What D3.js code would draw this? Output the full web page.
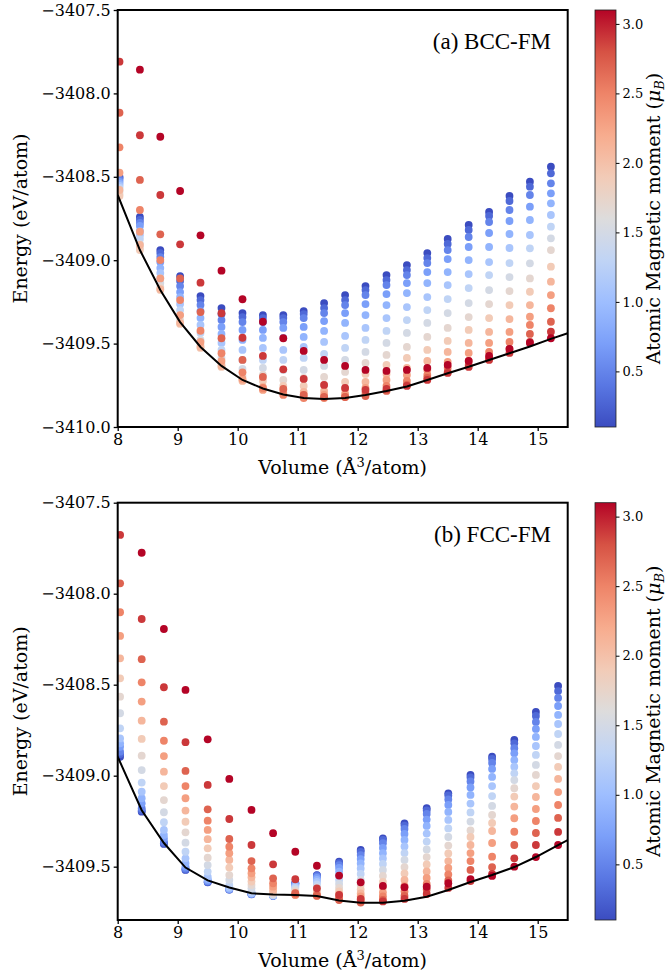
<!DOCTYPE html>
<html><head><meta charset="utf-8">
<script src="https://cdn.jsdelivr.net/npm/d3@7"></script>
<style>body{margin:0;background:#fff} svg text{font-family:'DejaVu Serif',serif;fill:#000}</style>
</head><body><svg id="chart" width="667" height="974"></svg>
<script>
// Fixed-spin moments (mu_B) used for every volume
const moments = [0.1,0.3,0.5,0.7,0.9,1.1,1.3,1.5,1.7,1.9,2.1,2.3,2.5,2.7,2.9,3.1];
const xTicks = [8,9,10,11,12,13,14,15];
const yTicksA = [-3410.0,-3409.5,-3409.0,-3408.5,-3408.0,-3407.5];
const yTicksB = [-3409.5,-3409.0,-3408.5,-3408.0,-3407.5];
const cbTicks = [0.5,1.0,1.5,2.0,2.5,3.0];

// (a) BCC-FM : volumes and energies (one row per volume, columns follow `moments`)
const volumesA = [8.03,8.37,8.71,9.04,9.38,9.73,10.08,10.42,10.76,11.10,11.44,11.79,12.13,12.48,12.82,13.16,13.50,13.85,14.19,14.53,14.87,15.22];
const energiesA = [
[-3408.501,-3408.507,-3408.519,-3408.531,-3408.543,-3408.555,-3408.567,-3408.585,-3408.603,-3408.615,-3408.579,-3408.475,-3408.323,-3408.116,-3407.810,-3407.410],
[-3408.741,-3408.759,-3408.777,-3408.795,-3408.825,-3408.849,-3408.873,-3408.903,-3408.927,-3408.939,-3408.909,-3408.829,-3408.699,-3408.519,-3408.251,-3407.858],
[-3408.939,-3408.957,-3408.981,-3409.011,-3409.047,-3409.077,-3409.107,-3409.137,-3409.161,-3409.179,-3409.173,-3409.109,-3408.999,-3408.845,-3408.609,-3408.260],
[-3409.095,-3409.125,-3409.155,-3409.191,-3409.221,-3409.263,-3409.299,-3409.329,-3409.359,-3409.382,-3409.376,-3409.329,-3409.239,-3409.109,-3408.905,-3408.585],
[-3409.215,-3409.239,-3409.269,-3409.305,-3409.347,-3409.388,-3409.436,-3409.478,-3409.508,-3409.526,-3409.520,-3409.490,-3409.423,-3409.311,-3409.135,-3408.851],
[-3409.287,-3409.323,-3409.359,-3409.400,-3409.442,-3409.496,-3409.538,-3409.586,-3409.622,-3409.640,-3409.634,-3409.604,-3409.558,-3409.468,-3409.318,-3409.063],
[-3409.317,-3409.341,-3409.371,-3409.418,-3409.478,-3409.538,-3409.598,-3409.652,-3409.694,-3409.718,-3409.724,-3409.712,-3409.672,-3409.598,-3409.465,-3409.234],
[-3409.329,-3409.347,-3409.371,-3409.418,-3409.466,-3409.526,-3409.598,-3409.646,-3409.688,-3409.724,-3409.760,-3409.778,-3409.766,-3409.700,-3409.574,-3409.369],
[-3409.329,-3409.347,-3409.371,-3409.406,-3409.466,-3409.538,-3409.598,-3409.658,-3409.718,-3409.754,-3409.778,-3409.796,-3409.808,-3409.772,-3409.654,-3409.468],
[-3409.305,-3409.323,-3409.347,-3409.400,-3409.460,-3409.520,-3409.586,-3409.658,-3409.706,-3409.754,-3409.790,-3409.808,-3409.826,-3409.808,-3409.712,-3409.544],
[-3409.257,-3409.287,-3409.317,-3409.365,-3409.424,-3409.490,-3409.562,-3409.634,-3409.700,-3409.748,-3409.784,-3409.808,-3409.826,-3409.820,-3409.748,-3409.598],
[-3409.209,-3409.239,-3409.269,-3409.317,-3409.376,-3409.454,-3409.526,-3409.598,-3409.670,-3409.730,-3409.772,-3409.802,-3409.820,-3409.820,-3409.766,-3409.634],
[-3409.155,-3409.179,-3409.209,-3409.263,-3409.329,-3409.406,-3409.478,-3409.550,-3409.616,-3409.682,-3409.730,-3409.766,-3409.796,-3409.814,-3409.778,-3409.658],
[-3409.089,-3409.119,-3409.149,-3409.203,-3409.269,-3409.347,-3409.424,-3409.496,-3409.568,-3409.628,-3409.682,-3409.718,-3409.754,-3409.784,-3409.772,-3409.664],
[-3409.029,-3409.059,-3409.089,-3409.137,-3409.197,-3409.281,-3409.359,-3409.436,-3409.520,-3409.586,-3409.646,-3409.688,-3409.724,-3409.748,-3409.754,-3409.658],
[-3408.957,-3408.987,-3409.017,-3409.071,-3409.137,-3409.221,-3409.299,-3409.376,-3409.460,-3409.538,-3409.604,-3409.658,-3409.688,-3409.706,-3409.718,-3409.646],
[-3408.873,-3408.903,-3408.939,-3408.993,-3409.071,-3409.149,-3409.233,-3409.317,-3409.406,-3409.484,-3409.550,-3409.610,-3409.646,-3409.670,-3409.676,-3409.628],
[-3408.789,-3408.819,-3408.861,-3408.921,-3408.999,-3409.083,-3409.167,-3409.257,-3409.341,-3409.418,-3409.496,-3409.556,-3409.604,-3409.628,-3409.640,-3409.604],
[-3408.711,-3408.735,-3408.771,-3408.837,-3408.921,-3409.011,-3409.089,-3409.179,-3409.263,-3409.347,-3409.430,-3409.496,-3409.550,-3409.586,-3409.598,-3409.574],
[-3408.615,-3408.645,-3408.699,-3408.765,-3408.843,-3408.927,-3409.017,-3409.101,-3409.185,-3409.269,-3409.353,-3409.430,-3409.490,-3409.532,-3409.556,-3409.532],
[-3408.529,-3408.559,-3408.609,-3408.679,-3408.759,-3408.849,-3408.929,-3409.019,-3409.109,-3409.189,-3409.269,-3409.339,-3409.388,-3409.442,-3409.490,-3409.496],
[-3408.439,-3408.479,-3408.539,-3408.599,-3408.659,-3408.729,-3408.799,-3408.869,-3408.939,-3409.039,-3409.129,-3409.209,-3409.288,-3409.369,-3409.429,-3409.468]
];
const lineVolA = [8.00,8.37,8.71,9.04,9.38,9.73,10.08,10.42,10.76,11.10,11.44,11.79,12.13,12.48,12.82,13.16,13.50,13.85,14.19,14.53,14.87,15.22,15.50];
const lineEnA = [-3408.609,-3408.939,-3409.179,-3409.371,-3409.520,-3409.634,-3409.718,-3409.769,-3409.805,-3409.826,-3409.832,-3409.826,-3409.808,-3409.784,-3409.757,-3409.718,-3409.678,-3409.639,-3409.598,-3409.558,-3409.517,-3409.472,-3409.438];

// (b) FCC-FM
const volumesB = [8.04,8.40,8.77,9.13,9.50,9.86,10.23,10.59,10.96,11.32,11.69,12.05,12.42,12.78,13.15,13.51,13.88,14.24,14.61,14.97,15.34];
const energiesB = [
[-3408.896,-3408.881,-3408.868,-3408.841,-3408.822,-3408.795,-3408.740,-3408.657,-3408.566,-3408.465,-3408.355,-3408.232,-3408.102,-3407.943,-3407.677,-3407.265],
[-3409.198,-3409.191,-3409.179,-3409.152,-3409.124,-3409.088,-3409.038,-3408.969,-3408.890,-3408.798,-3408.698,-3408.593,-3408.487,-3408.360,-3408.139,-3407.775],
[-3409.375,-3409.371,-3409.363,-3409.344,-3409.326,-3409.298,-3409.256,-3409.201,-3409.134,-3409.057,-3408.978,-3408.892,-3408.808,-3408.703,-3408.514,-3408.194],
[-3409.518,-3409.515,-3409.510,-3409.500,-3409.481,-3409.454,-3409.418,-3409.368,-3409.311,-3409.253,-3409.192,-3409.124,-3409.057,-3408.974,-3408.816,-3408.529],
[-3409.586,-3409.584,-3409.581,-3409.576,-3409.568,-3409.555,-3409.527,-3409.491,-3409.451,-3409.399,-3409.349,-3409.298,-3409.247,-3409.185,-3409.051,-3408.800],
[-3409.626,-3409.625,-3409.624,-3409.623,-3409.620,-3409.614,-3409.601,-3409.573,-3409.546,-3409.505,-3409.463,-3409.426,-3409.390,-3409.348,-3409.238,-3409.018],
[-3409.652,-3409.651,-3409.650,-3409.649,-3409.647,-3409.645,-3409.637,-3409.619,-3409.601,-3409.582,-3409.558,-3409.536,-3409.509,-3409.469,-3409.381,-3409.188],
[-3409.660,-3409.660,-3409.659,-3409.659,-3409.658,-3409.657,-3409.655,-3409.653,-3409.647,-3409.639,-3409.628,-3409.610,-3409.591,-3409.564,-3409.487,-3409.316],
[-3409.590,-3409.591,-3409.594,-3409.598,-3409.603,-3409.610,-3409.617,-3409.625,-3409.634,-3409.642,-3409.647,-3409.653,-3409.655,-3409.646,-3409.569,-3409.418],
[-3409.546,-3409.548,-3409.554,-3409.562,-3409.573,-3409.584,-3409.598,-3409.612,-3409.625,-3409.636,-3409.647,-3409.655,-3409.661,-3409.658,-3409.619,-3409.495],
[-3409.473,-3409.480,-3409.491,-3409.507,-3409.527,-3409.548,-3409.573,-3409.595,-3409.617,-3409.636,-3409.653,-3409.666,-3409.677,-3409.683,-3409.655,-3409.549],
[-3409.408,-3409.419,-3409.436,-3409.458,-3409.482,-3409.510,-3409.540,-3409.573,-3409.601,-3409.625,-3409.647,-3409.664,-3409.683,-3409.697,-3409.677,-3409.586],
[-3409.344,-3409.353,-3409.371,-3409.397,-3409.426,-3409.455,-3409.485,-3409.518,-3409.551,-3409.584,-3409.614,-3409.642,-3409.664,-3409.683,-3409.691,-3409.606],
[-3409.262,-3409.274,-3409.293,-3409.320,-3409.353,-3409.389,-3409.425,-3409.463,-3409.502,-3409.537,-3409.573,-3409.606,-3409.636,-3409.661,-3409.677,-3409.613],
[-3409.179,-3409.191,-3409.210,-3409.241,-3409.276,-3409.318,-3409.362,-3409.405,-3409.447,-3409.488,-3409.526,-3409.562,-3409.595,-3409.625,-3409.650,-3409.610],
[-3409.097,-3409.109,-3409.131,-3409.161,-3409.199,-3409.243,-3409.290,-3409.337,-3409.384,-3409.427,-3409.469,-3409.507,-3409.543,-3409.576,-3409.617,-3409.591],
[-3408.996,-3409.010,-3409.032,-3409.065,-3409.106,-3409.153,-3409.202,-3409.252,-3409.301,-3409.337,-3409.381,-3409.425,-3409.469,-3409.518,-3409.579,-3409.568],
[-3408.896,-3408.908,-3408.930,-3408.963,-3409.007,-3409.057,-3409.112,-3409.166,-3409.216,-3409.260,-3409.304,-3409.370,-3409.445,-3409.502,-3409.540,-3409.551],
[-3408.804,-3408.822,-3408.849,-3408.877,-3408.914,-3408.951,-3408.987,-3409.024,-3409.069,-3409.115,-3409.170,-3409.234,-3409.308,-3409.381,-3409.454,-3409.500],
[-3408.650,-3408.672,-3408.705,-3408.743,-3408.787,-3408.837,-3408.886,-3408.941,-3408.996,-3409.057,-3409.117,-3409.183,-3409.249,-3409.315,-3409.381,-3409.447],
[-3408.507,-3408.535,-3408.573,-3408.617,-3408.666,-3408.716,-3408.771,-3408.831,-3408.892,-3408.952,-3409.018,-3409.090,-3409.161,-3409.232,-3409.309,-3409.381]
];
const lineVolB = [8.00,8.40,8.77,9.13,9.50,9.86,10.23,10.59,10.96,11.32,11.69,12.05,12.42,12.78,13.15,13.51,13.88,14.24,14.61,14.97,15.34,15.50];
const lineEnB = [-3408.896,-3409.190,-3409.370,-3409.505,-3409.575,-3409.614,-3409.646,-3409.653,-3409.655,-3409.661,-3409.686,-3409.698,-3409.698,-3409.687,-3409.665,-3409.628,-3409.584,-3409.546,-3409.502,-3409.447,-3409.381,-3409.354];

// coolwarm colormap
const coolStops = ['#3b4cc0','#5977e3','#7b9ff9','#9ebeff','#c0d4f5','#dddcdc','#f2cbb7','#f7ac8e','#ee8468','#d65244','#b40426'];
const cool = d3.scaleLinear().domain(d3.range(11).map(i => i / 10)).range(coolStops).interpolate(d3.interpolateRgb).clamp(true);
const mNorm = d3.scaleLinear().domain([0.1, 3.1]).range([0, 1]);
const colorOf = m => cool(mNorm(m));

const svg = d3.select('#chart');
const defs = svg.append('defs');
const grad = defs.append('linearGradient').attr('id', 'cw').attr('x1', 0).attr('y1', 1).attr('x2', 0).attr('y2', 0);
d3.range(0, 1.0001, 0.05).forEach(t => grad.append('stop').attr('offset', t).attr('stop-color', cool(t)));

const L = 117.7, R = 567.7;
const x = d3.scaleLinear().domain([8, 15.5]).range([L, R]);

function panel(p) {
  const y = d3.scaleLinear().domain(p.yDomain).range([p.bottom, p.top]);
  const g = svg.append('g');
  const cid = 'clip' + p.id;
  defs.append('clipPath').attr('id', cid).append('rect')
    .attr('x', L).attr('y', p.top).attr('width', R - L).attr('height', p.bottom - p.top);

  const pts = [];
  p.volumes.forEach((v, i) => p.energies[i].forEach((e, j) => pts.push({v, e, m: moments[j]})));
  g.append('g').attr('clip-path', `url(#${cid})`).selectAll('circle').data(pts).join('circle')
    .attr('cx', d => x(d.v)).attr('cy', d => y(d.e)).attr('r', 3.9)
    .attr('fill', d => colorOf(d.m));

  g.append('path').attr('clip-path', `url(#${cid})`)
    .datum(p.lineV.map((v, i) => [v, p.lineE[i]]))
    .attr('d', d3.line().x(d => x(d[0])).y(d => y(d[1])))
    .attr('fill', 'none').attr('stroke', '#000').attr('stroke-width', 2);

  const xa = g.append('g').attr('transform', `translate(0,${p.bottom})`)
    .call(d3.axisBottom(x).tickValues(xTicks).tickSize(4).tickPadding(3).tickFormat(d3.format('d')));
  const ya = g.append('g').attr('transform', `translate(${L},0)`)
    .call(d3.axisLeft(y).tickValues(p.yTicks).tickSize(4).tickPadding(3).tickFormat(d3.format('.1f')));
  [xa, ya].forEach(a => {
    a.select('.domain').remove();
    a.selectAll('line').attr('stroke', '#000').attr('stroke-width', 1.3);
    a.selectAll('text').style('font-family', "'DejaVu Serif',serif").style('font-size', '16px').attr('fill', '#000');
  });

  g.append('rect').attr('x', L).attr('y', p.top).attr('width', R - L).attr('height', p.bottom - p.top)
    .attr('fill', 'none').attr('stroke', '#000').attr('stroke-width', 2);

  g.append('text').attr('x', 551).attr('y', p.top + 39).attr('text-anchor', 'end')
    .style('font-family', "'Liberation Serif','Times New Roman',serif").style('font-size', '23px').text(p.title);

  const xl = g.append('text').attr('x', (L + R) / 2).attr('y', p.bottom + 47).attr('text-anchor', 'middle').style('font-size', '19px');
  xl.append('tspan').text('Volume (Å');
  xl.append('tspan').attr('dy', -7).style('font-size', '13px').text('3');
  xl.append('tspan').attr('dy', 7).text('/atom)');

  g.append('text').attr('transform', `translate(27,${(p.top + p.bottom) / 2}) rotate(-90)`)
    .attr('text-anchor', 'middle').style('font-size', '19px').text('Energy (eV/atom)');

  // colorbar
  const cb = d3.scaleLinear().domain([0.1, 3.1]).range([p.bottom, p.top]);
  const cx = 595, cw = 21;
  g.append('rect').attr('x', cx).attr('y', p.top).attr('width', cw).attr('height', p.bottom - p.top)
    .attr('fill', 'url(#cw)').attr('stroke', '#222').attr('stroke-width', 0.8);
  const ca = g.append('g').attr('transform', `translate(${cx + cw},0)`)
    .call(d3.axisRight(cb).tickValues(cbTicks).tickSize(3.5).tickPadding(3).tickFormat(d3.format('.1f')));
  ca.select('.domain').remove();
  ca.selectAll('line').attr('stroke', '#000').attr('stroke-width', 1);
  ca.selectAll('text').style('font-family', "'DejaVu Serif',serif").style('font-size', '13px').attr('fill', '#000');
  const cl = g.append('text').attr('transform', `translate(660,${(p.top + p.bottom) / 2}) rotate(-90)`)
    .attr('text-anchor', 'middle').style('font-size', '19px');
  cl.append('tspan').text('Atomic Magnetic moment (');
  cl.append('tspan').style('font-style', 'italic').text('μ');
  cl.append('tspan').style('font-style', 'italic').style('font-size', '13px').attr('dy', 4).text('B');
  cl.append('tspan').attr('dy', -4).text(')');
}

panel({id: 'a', top: 10, bottom: 427, yDomain: [-3410.0, -3407.5], yTicks: yTicksA,
  volumes: volumesA, energies: energiesA, lineV: lineVolA, lineE: lineEnA, title: '(a) BCC-FM'});
panel({id: 'b', top: 502.7, bottom: 920, yDomain: [-3409.793, -3407.5], yTicks: yTicksB,
  volumes: volumesB, energies: energiesB, lineV: lineVolB, lineE: lineEnB, title: '(b) FCC-FM'});
</script></body></html>
